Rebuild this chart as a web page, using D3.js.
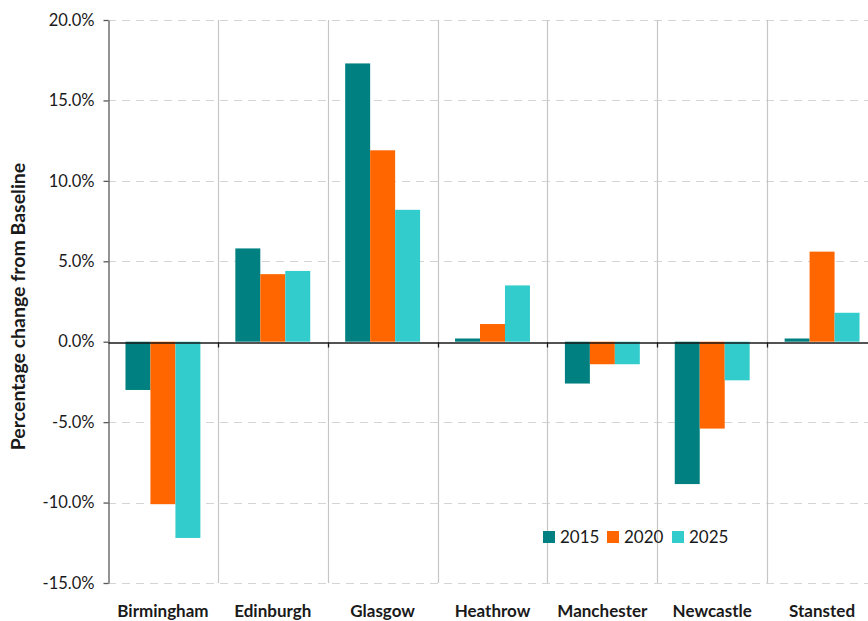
<!DOCTYPE html>
<html>
<head>
<meta charset="utf-8">
<script src="https://cdn.jsdelivr.net/npm/d3@7"></script>
<style>
  html, body { margin: 0; padding: 0; background: #fff; }
  svg { display: block; font-family: Lato, "Open Sans", sans-serif; }
</style>
</head>
<body>
<svg id="chart" width="868" height="621"></svg>
<script>
// Airports and projected change from baseline (percent)
const airports = ["Birmingham", "Edinburgh", "Glasgow", "Heathrow", "Manchester", "Newcastle", "Stansted"];
const years = ["2015", "2020", "2025"];
const values2015 = [-3.0, 5.8, 17.3, 0.2, -2.6, -8.85, 0.2];
const values2020 = [-10.1, 4.2, 11.9, 1.1, -1.4, -5.4, 5.6];
const values2025 = [-12.2, 4.4, 8.2, 3.5, -1.4, -2.4, 1.8];
const yTicks = [-15, -10, -5, 0, 5, 10, 15, 20];
const colors = ["#008080", "#FF6600", "#33CCCC"];

const series = [values2015, values2020, values2025];

const svg = d3.select("#chart");
const margin = { left: 108, top: 20, right: -9, bottom: 38 };
const W = 868, H = 621;
const plotRight = W - margin.right;
const plotBottom = H - margin.bottom;

const x = d3.scaleBand().domain(airports).range([margin.left, plotRight]).paddingInner(0).paddingOuter(0);
const xInner = d3.scaleBand().domain(years).range([0, x.bandwidth()]).paddingInner(0).paddingOuter(0.7);
const y = d3.scaleLinear().domain([-15, 20]).range([plotBottom, margin.top]);

// horizontal dashed gridlines
svg.append("g")
  .selectAll("line")
  .data(yTicks.filter(t => t !== 0))
  .join("line")
  .attr("x1", margin.left).attr("x2", plotRight)
  .attr("y1", d => Math.round(y(d)) + 0.5).attr("y2", d => Math.round(y(d)) + 0.5)
  .attr("stroke", "#d4d4d4").attr("stroke-width", 1.2)
  .attr("stroke-dasharray", "8,6");

// vertical separators between airports
svg.append("g")
  .selectAll("line")
  .data(airports.slice(1))
  .join("line")
  .attr("x1", d => Math.round(x(d)) + 0.5).attr("x2", d => Math.round(x(d)) + 0.5)
  .attr("y1", margin.top).attr("y2", plotBottom)
  .attr("stroke", "#c6c6c6").attr("stroke-width", 1.2);

// bars
const groups = svg.append("g")
  .selectAll("g")
  .data(airports)
  .join("g")
  .attr("transform", d => `translate(${x(d)},0)`);

groups.selectAll("rect")
  .data((d, i) => years.map((yr, k) => ({ yr, v: series[k][i], k })))
  .join("rect")
  .attr("x", d => xInner(d.yr))
  .attr("width", xInner.bandwidth())
  .attr("y", d => y(Math.max(0, d.v)))
  .attr("height", d => Math.abs(y(d.v) - y(0)))
  .attr("fill", d => colors[d.k]);

// y axis
const yAxis = d3.axisLeft(y)
  .tickValues(yTicks)
  .tickFormat(d => d.toFixed(1) + "%")
  .tickSize(5)
  .tickSizeOuter(0)
  .tickPadding(9);
const yg = svg.append("g")
  .attr("transform", `translate(${margin.left + 0.5},0)`)
  .call(yAxis);
yg.select(".domain").attr("stroke", "#595959").attr("stroke-width", 1.3);
yg.selectAll(".tick line").attr("stroke", "#595959").attr("stroke-width", 1.3);
yg.selectAll(".tick text")
  .attr("font-size", 16.5).attr("fill", "#1a1a1a")
  .attr("font-family", "Lato, sans-serif");

// zero line with category tick marks
const xAxis = d3.axisBottom(x).tickSize(0).tickFormat("");
const zg = svg.append("g")
  .attr("transform", `translate(0,${Math.round(y(0)) + 0.5})`)
  .call(xAxis);
zg.select(".domain").attr("stroke", "#1a1a1a").attr("stroke-width", 1.5);
zg.selectAll(".tick").remove();
zg.selectAll(".sep")
  .data(airports.slice(1))
  .join("line")
  .attr("class", "sep")
  .attr("x1", d => Math.round(x(d)) + 0.5).attr("x2", d => Math.round(x(d)) + 0.5)
  .attr("y1", 0).attr("y2", 5)
  .attr("stroke", "#1a1a1a").attr("stroke-width", 1.3);

// category labels below the plot
svg.append("g")
  .selectAll("text")
  .data(airports)
  .join("text")
  .attr("x", d => x(d) + x.bandwidth() / 2)
  .attr("y", 617)
  .attr("text-anchor", "middle")
  .attr("font-weight", "bold")
  .attr("font-size", 17)
  .attr("fill", "#1a1a1a")
  .text(d => d);

// axis title
svg.append("text")
  .attr("transform", `translate(25,${(margin.top + plotBottom) / 2 + 5}) rotate(-90)`)
  .attr("text-anchor", "middle")
  .attr("font-weight", "bold")
  .attr("font-size", 19.5)
  .attr("fill", "#1a1a1a")
  .text("Percentage change from Baseline");

// legend
const legend = svg.append("g").attr("transform", "translate(543,531)");
const legendX = [0, 64, 129];
years.forEach((yr, k) => {
  const g = legend.append("g").attr("transform", `translate(${legendX[k]},0)`);
  g.append("rect").attr("width", 12).attr("height", 12).attr("fill", colors[k]);
  g.append("text").attr("x", 17).attr("y", 12).attr("font-size", 17)
    .attr("fill", "#1a1a1a").text(yr);
});
</script>
</body>
</html>
